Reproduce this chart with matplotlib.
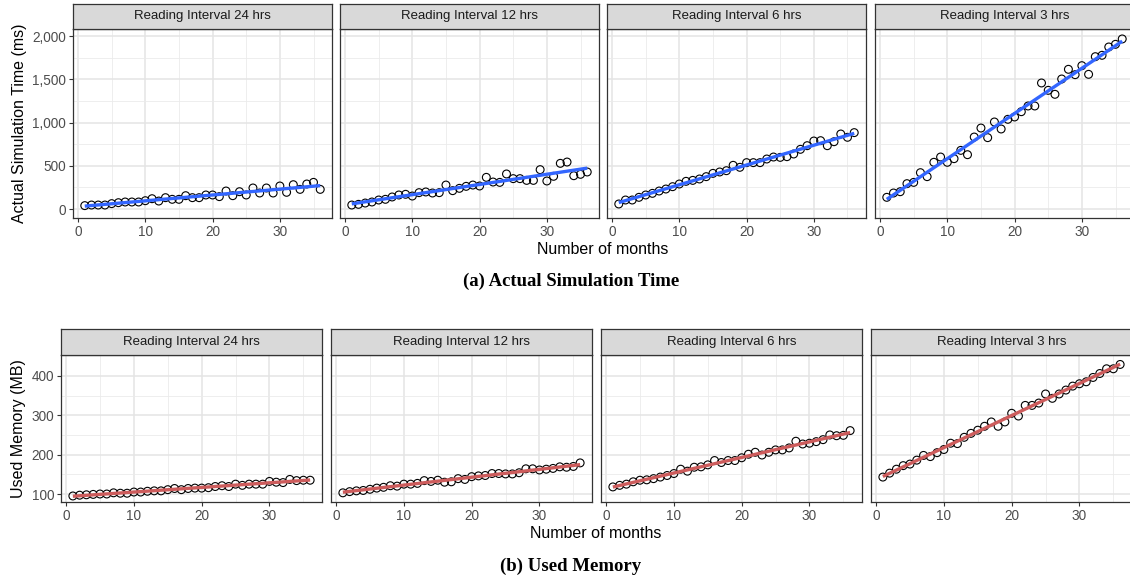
import numpy as np
import matplotlib.pyplot as plt
from matplotlib.ticker import FuncFormatter, MultipleLocator

plt.rcParams['font.family'] = ['Liberation Sans', 'DejaVu Sans']

months = np.arange(1, 37)
intervals = ['Reading Interval 24 hrs', 'Reading Interval 12 hrs',
             'Reading Interval 6 hrs', 'Reading Interval 3 hrs']

# actual simulation time (ms)
sim_24 = [39, 46, 46, 46, 62, 73, 81, 81, 81, 96, 119, 92, 131, 112, 112, 154, 131, 131,
          162, 162, 143, 208, 154, 200, 162, 243, 185, 243, 185, 266, 193, 281, 227, 289, 308, 227]
sim_12 = [46, 54, 69, 81, 104, 112, 139, 162, 170, 150, 189, 197, 185, 189, 277, 212, 239, 262,
          277, 266, 366, 312, 308, 405, 351, 351, 331, 331, 455, 324, 378, 528, 543, 385, 401, 428]
sim_6 = [58, 104, 104, 135, 162, 181, 208, 231, 258, 289, 320, 331, 347, 374, 412, 428, 443, 505,
         482, 536, 536, 536, 578, 601, 597, 605, 636, 690, 732, 786, 790, 732, 778, 867, 829, 883]
sim_3 = [135, 185, 200, 293, 308, 420, 374, 540, 601, 540, 582, 678, 628, 832, 936, 825, 1006, 925,
         1037, 1064, 1125, 1191, 1191, 1457, 1372, 1326, 1503, 1615, 1553, 1657, 1557, 1761, 1777,
         1873, 1904, 1966]

# used memory (MB)
mem_24 = [95, 97, 98, 99, 100, 100, 103, 102, 102, 105, 105, 107, 108, 108, 111, 114, 111, 114,
          115, 115, 116, 119, 121, 119, 125, 122, 125, 125, 125, 132, 130, 129, 137, 134, 135, 135]
mem_12 = [103, 106, 108, 109, 112, 115, 117, 121, 120, 125, 125, 127, 134, 132, 135, 130, 131, 139,
          137, 144, 146, 147, 152, 152, 151, 151, 154, 164, 164, 161, 163, 165, 169, 168, 170, 179]
mem_6 = [118, 122, 125, 131, 135, 136, 139, 143, 147, 152, 163, 158, 168, 169, 174, 185, 180, 185,
         185, 192, 201, 206, 199, 206, 212, 212, 217, 234, 227, 229, 233, 238, 250, 248, 249, 261]
mem_3 = [143, 153, 163, 172, 176, 186, 198, 195, 205, 213, 229, 228, 244, 254, 262, 272, 283, 272,
         283, 305, 298, 325, 325, 331, 354, 343, 354, 364, 374, 380, 385, 396, 406, 418, 418, 429]

W, H = 1130, 580
fig = plt.figure(figsize=(W / 100, H / 100), dpi=100)


def rect(x0, y0, x1, y1):
    # pixel box (top-left origin) -> figure fraction
    return [x0 / W, 1 - y1 / H, (x1 - x0) / W, (y1 - y0) / H]


def facet_row(series, lefts, width, strip_top, panel_top, panel_bottom, ylim,
              yticks, yminor, color, ylabel, fmt):
    axes = []
    for i, (ys, x0) in enumerate(zip(series, lefts)):
        ax = fig.add_axes(rect(x0, panel_top, x0 + width, panel_bottom))
        ax.set_xlim(-0.75, 37.75)
        ax.set_ylim(*ylim)
        ax.set_xticks([0, 10, 20, 30])
        ax.xaxis.set_minor_locator(MultipleLocator(5))
        ax.set_yticks(yticks)
        ax.set_yticks(yminor, minor=True)
        ax.grid(True, which='major', color='#E4E4E4', lw=1.1)
        ax.grid(True, which='minor', color='#EBEBEB', lw=0.6)
        ax.set_axisbelow(True)
        for s in ax.spines.values():
            s.set_color('#333333')
            s.set_linewidth(0.9)
        ax.tick_params(which='major', length=3, width=0.8, color='#333333',
                       labelcolor='#4D4D4D', labelsize=9.8, pad=2)
        ax.tick_params(which='minor', length=0)
        ax.yaxis.set_major_formatter(FuncFormatter(fmt))
        if i > 0:
            ax.tick_params(axis='y', labelleft=False, length=0)

        ax.scatter(months, ys, s=32, facecolors='none', edgecolors='black',
                   linewidths=0.8, zorder=3)
        k, b = np.polyfit(months, ys, 1)
        ax.plot(months, k * months + b, color=color, lw=2.4, zorder=4,
                solid_capstyle='butt')

        sax = fig.add_axes(rect(x0, strip_top, x0 + width, panel_top))
        sax.set_facecolor('#D9D9D9')
        sax.set_xticks([])
        sax.set_yticks([])
        for s in sax.spines.values():
            s.set_color('#333333')
            s.set_linewidth(0.9)
        sax.text(0.5, 0.5, intervals[i], ha='center', va='center',
                 fontsize=9.5, color='#1A1A1A', transform=sax.transAxes)
        axes.append(ax)
    axes[0].set_ylabel(ylabel, fontsize=11.5, color='black', labelpad=4)
    return axes


# (a) actual simulation time
facet_row([sim_24, sim_12, sim_6, sim_3], [73, 340, 607, 875], 259,
          4, 29, 218, (-104, 2081), [0, 500, 1000, 1500, 2000],
          [250, 750, 1250, 1750], '#3366FF', 'Actual Simulation Time (ms)',
          lambda v, p: f'{int(v):,}')
fig.text(603 / W, 1 - 249 / H, 'Number of months', ha='center', va='center',
         fontsize=11.5)
fig.text(571 / W, 1 - 281 / H, '(a) Actual Simulation Time', ha='center',
         va='center', fontsize=13.5, fontweight='bold',
         family=['Liberation Serif', 'DejaVu Serif'])

# (b) used memory
facet_row([mem_24, mem_12, mem_6, mem_3], [61, 331, 601, 871], 261,
          329, 355, 502, (79.7, 453), [100, 200, 300, 400],
          [150, 250, 350], '#CD5C5C', 'Used Memory (MB)',
          lambda v, p: f'{int(v)}')
fig.text(596 / W, 1 - 534 / H, 'Number of months', ha='center', va='center',
         fontsize=11.5)
fig.text(571 / W, 1 - 566 / H, '(b) Used Memory', ha='center',
         va='center', fontsize=13.5, fontweight='bold',
         family=['Liberation Serif', 'DejaVu Serif'])

fig.savefig('out.png', dpi=100)
